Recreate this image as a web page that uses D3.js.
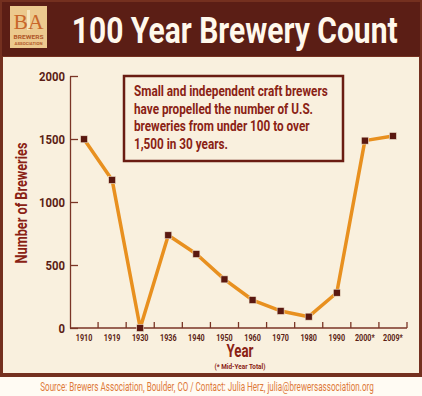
<!DOCTYPE html>
<html>
<head>
<meta charset="utf-8">
<script src="https://cdn.jsdelivr.net/npm/d3@7"></script>
<style>
  html, body { margin: 0; padding: 0; background: #fffbf3; }
  svg { display: block; }
  text { font-family: Roboto, "Liberation Sans", sans-serif; font-weight: bold; }
</style>
</head>
<body>
<svg id="chart" width="422" height="396"></svg>
<script>
// ==================================
// data
// ==================================
var years = ["1910", "1919", "1930", "1936", "1940", "1950", "1960", "1970", "1980", "1990", "2000*", "2009*"];
var breweries = [1498, 1175, 0, 736, 587, 386, 222, 135, 90, 280, 1487, 1524];
var yTicks = [0, 500, 1000, 1500, 2000];
var noteLines = [
	"Small and independent craft brewers",
	"have propelled the number of U.S.",
	"breweries from under 100 to over",
	"1,500 in 30 years."
];

var W = 422, H = 396;
var DARK = "#5b1e15", FRAME = "#74301f", CREAM = "#f9f0de", RED = "#8a2214", ORANGE = "#e8901f";

// the reference uses a condensed face; scale regular glyphs horizontally around their anchor
function narrow(node, ratio)
{
	var t = d3.select(node);
	var x0 = +t.attr("x") || 0;
	var prev = t.attr("transform") || "";
	t.attr("transform", prev + " translate(" + x0 + ",0) scale(" + ratio + ",1) translate(" + (-x0) + ",0)");
}
function fit(sel, w)
{
	sel.each(function() { narrow(this, w / this.getComputedTextLength()); });
}
function squeeze(sel, ratio)
{
	sel.each(function() { narrow(this, ratio); });
}

var svg = d3.select("#chart");

// background pieces
svg.append("rect").attr("width", W).attr("height", H).attr("fill", "#fffbf3");
svg.append("rect").attr("x", 0).attr("y", 0).attr("width", W).attr("height", 377).attr("fill", FRAME);
svg.append("rect").attr("x", 2).attr("y", 2).attr("width", W - 4).attr("height", 54).attr("fill", DARK);
svg.append("rect").attr("x", 3).attr("y", 57).attr("width", W - 6).attr("height", 316).attr("fill", CREAM);

// logo
var logo = svg.append("g").attr("transform", "translate(10,6)");
logo.append("rect").attr("width", 37).attr("height", 42).attr("fill", "#ecc98e");
logo.append("rect").attr("x", 17).attr("y", 4).attr("width", 3).attr("height", 20).attr("fill", "#f6e6c0");
logo.append("text").attr("x", 18.5).attr("y", 23).attr("text-anchor", "middle")
	.style("font-family", "'Liberation Serif', 'DejaVu Serif', serif").style("font-weight", "normal")
	.attr("font-size", 22).attr("fill", "#c8662a").text("BA")
	.call(fit, 30);
logo.append("text").attr("x", 18.5).attr("y", 33).attr("text-anchor", "middle")
	.attr("font-size", 6).attr("fill", "#b0582a").text("BREWERS")
	.call(fit, 30);
logo.append("text").attr("x", 18.5).attr("y", 39).attr("text-anchor", "middle")
	.attr("font-size", 4.2).attr("fill", "#b0582a").text("ASSOCIATION")
	.call(fit, 28);

// title
svg.append("text").attr("x", 234.7).attr("y", 43).attr("text-anchor", "middle")
	.attr("font-size", 37).attr("fill", "#fff8ec").text("100 Year Brewery Count")
	.call(fit, 326);

// ==================================
// scales & axes
// ==================================
var x = d3.scaleBand().domain(years).range([70, 407]);
var y = d3.scaleLinear().domain([0, 2000]).range([328, 76]);

var yAxis = svg.append("g").attr("transform", "translate(70,0)")
	.call(d3.axisLeft(y).tickValues(yTicks).tickSizeInner(-8).tickSizeOuter(0).tickPadding(5).tickFormat(d3.format("d")));
yAxis.selectAll("text").attr("font-size", 13.5).attr("fill", DARK).attr("dy", "0.36em")
	.call(squeeze, 0.84);

var xAxis = svg.append("g").attr("transform", "translate(0,328)")
	.call(d3.axisBottom(x).tickSize(0).tickPadding(6));
xAxis.selectAll("text").attr("font-size", 9.5).attr("fill", DARK)
	.call(squeeze, 0.76);
xAxis.selectAll(".domain").attr("d", "M70,0H407");

// tick marks sit between the bands
xAxis.selectAll("line.sep").data(years).enter().append("line")
	.attr("class", "sep")
	.attr("x1", function(d) { return x(d) + x.bandwidth(); })
	.attr("x2", function(d) { return x(d) + x.bandwidth(); })
	.attr("y1", 0).attr("y2", -6);

svg.selectAll(".domain, .tick line, line.sep").attr("stroke", "#7a3526").attr("stroke-width", 1.3);

// axis titles
svg.append("text").attr("transform", "translate(27,203) rotate(-90)").attr("text-anchor", "middle")
	.attr("font-size", 16.5).attr("fill", RED).text("Number of Breweries")
	.call(fit, 121);
svg.append("text").attr("x", 240).attr("y", 357.5).attr("text-anchor", "middle")
	.attr("font-size", 17.5).attr("fill", RED).text("Year")
	.call(fit, 27);
svg.append("text").attr("x", 240).attr("y", 369).attr("text-anchor", "middle")
	.attr("font-size", 7).attr("fill", RED).text("(* Mid-Year Total)")
	.call(fit, 51);

// ==================================
// note box
// ==================================
svg.append("rect").attr("x", 124).attr("y", 76).attr("width", 219).attr("height", 85)
	.attr("fill", "none").attr("stroke", "#6a1c12").attr("stroke-width", 2.5);
var note = svg.append("g").selectAll("text").data(noteLines).enter().append("text")
	.attr("x", 134).attr("y", function(d, i) { return 96 + i * 17.6; })
	.attr("font-size", 14).attr("fill", RED).text(function(d) { return d; });
var noteRatio = 194 / note.node().getComputedTextLength();
note.call(squeeze, noteRatio);

// ==================================
// line + markers
// ==================================
var pts = years.map(function(d, i) { return [x(d) + x.bandwidth() / 2, y(breweries[i])]; });

svg.append("path").attr("d", d3.line()(pts))
	.attr("fill", "none").attr("stroke", ORANGE).attr("stroke-width", 3.5).attr("stroke-linejoin", "round");

svg.selectAll("rect.pt").data(pts).enter().append("rect")
	.attr("class", "pt")
	.attr("x", function(d) { return d[0] - 3.5; }).attr("y", function(d) { return d[1] - 3.5; })
	.attr("width", 7).attr("height", 7)
	.attr("fill", "#5a1810").attr("stroke", "#f3e6d0").attr("stroke-width", 0.6);

// source line
svg.append("text").attr("x", 207).attr("y", 391).attr("text-anchor", "middle")
	.style("font-weight", "normal").attr("font-size", 12.5).attr("fill", "#de7a3a")
	.text("Source: Brewers Association, Boulder, CO  /  Contact: Julia Herz, julia@brewersassociation.org")
	.call(fit, 334);
</script>
</body>
</html>
